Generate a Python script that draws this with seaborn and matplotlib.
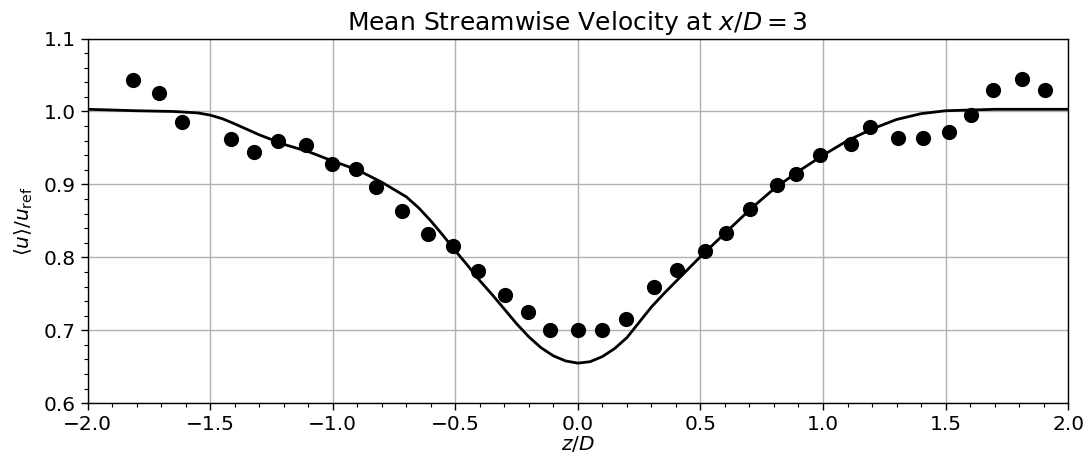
import matplotlib
matplotlib.use("Agg")
import matplotlib.pyplot as plt
import seaborn as sns
import pandas as pd
from matplotlib.ticker import MultipleLocator

# Experimental points
exp_z = [-1.816, -1.708, -1.615, -1.415, -1.322, -1.222, -1.109, -1.004, -0.907,
         -0.824, -0.719, -0.610, -0.510, -0.408, -0.298, -0.202, -0.114, 0.0,
         0.098, 0.196, 0.310, 0.406, 0.520, 0.604, 0.702, 0.811, 0.890, 0.988,
         1.113, 1.192, 1.307, 1.409, 1.513, 1.603, 1.692, 1.811, 1.906]
exp_u = [1.043, 1.026, 0.986, 0.962, 0.944, 0.960, 0.954, 0.928, 0.921,
         0.897, 0.863, 0.832, 0.816, 0.782, 0.749, 0.725, 0.700, 0.700,
         0.700, 0.716, 0.759, 0.783, 0.809, 0.833, 0.866, 0.899, 0.914, 0.940,
         0.956, 0.979, 0.964, 0.964, 0.972, 0.995, 1.030, 1.045, 1.030]

# Simulation profile
sim_z = [-2.0, -1.8, -1.65, -1.55, -1.5, -1.45, -1.4, -1.3, -1.2, -1.1, -1.0,
         -0.9, -0.8, -0.7, -0.65, -0.6, -0.55, -0.5, -0.45, -0.4, -0.35, -0.3,
         -0.25, -0.2, -0.15, -0.1, -0.05, 0.0, 0.05, 0.1, 0.15, 0.2, 0.25, 0.3,
         0.35, 0.4, 0.45, 0.5, 0.6, 0.7, 0.8, 0.9, 1.0, 1.1, 1.2, 1.3, 1.4,
         1.5, 1.6, 1.7, 2.0]
sim_u = [1.003, 1.001, 1.000, 0.998, 0.995, 0.990, 0.983, 0.968, 0.955, 0.945, 0.932,
         0.920, 0.903, 0.883, 0.868, 0.850, 0.830, 0.809, 0.789, 0.768, 0.749, 0.729,
         0.709, 0.691, 0.676, 0.665, 0.658, 0.655, 0.657, 0.664, 0.675, 0.690, 0.711, 0.732,
         0.750, 0.767, 0.784, 0.801, 0.833, 0.865, 0.894, 0.918, 0.940, 0.960, 0.976, 0.989, 0.997,
         1.001, 1.002, 1.003, 1.003]

sns.set_theme(style="ticks")
plt.rcParams.update({
    "font.family": ["DejaVu Sans"],
    "axes.edgecolor": "black",
    "axes.linewidth": 1.0,
    "xtick.color": "black",
    "ytick.color": "black",
    "xtick.labelcolor": "black",
    "ytick.labelcolor": "black",
    "axes.labelcolor": "black",
    "axes.titlecolor": "black",
    "text.color": "black",
    "axes.unicode_minus": True,
})

fig = plt.figure(figsize=(10.91, 4.70), dpi=100)
ax = fig.add_axes([0.0804, 0.142, 0.8986, 0.776])

sim_df = pd.DataFrame({"z": sim_z, "u": sim_u})
exp_df = pd.DataFrame({"z": exp_z, "u": exp_u})

sns.lineplot(data=sim_df, x="z", y="u", ax=ax, color="black", lw=2.0, sort=False, zorder=3)
sns.scatterplot(data=exp_df, x="z", y="u", ax=ax, color="black", s=120, edgecolor="black",
                linewidth=0, zorder=4)

ax.set_xlim(-2.0, 2.0)
ax.set_ylim(0.6, 1.1)
ax.xaxis.set_major_locator(MultipleLocator(0.5))
ax.xaxis.set_minor_locator(MultipleLocator(0.1))
ax.yaxis.set_major_locator(MultipleLocator(0.1))
ax.yaxis.set_minor_locator(MultipleLocator(0.02))
ax.xaxis.set_major_formatter(matplotlib.ticker.FuncFormatter(lambda v, p: f"{v:.1f}".replace("-", "\u2212")))
ax.yaxis.set_major_formatter(matplotlib.ticker.FuncFormatter(lambda v, p: f"{v:.1f}".replace("-", "\u2212")))
ax.grid(True, which="major", color="#b0b0b0", lw=1.0)
ax.tick_params(axis="both", which="major", labelsize=14.5, length=5, width=1.0, direction="out")
ax.tick_params(axis="both", which="minor", length=3, width=0.8, direction="out")
ax.set_xlabel(r"$z/D$", fontsize=14.5, labelpad=0)
ax.set_ylabel(r"$\langle u\rangle/u_{\rm ref}$", fontsize=14.5, labelpad=6)
ax.set_title(r"Mean Streamwise Velocity at $x/D = 3$", fontsize=18, pad=6)
for s in ax.spines.values():
    s.set_visible(True)
    s.set_color("black")

fig.savefig("out.png", dpi=100)
